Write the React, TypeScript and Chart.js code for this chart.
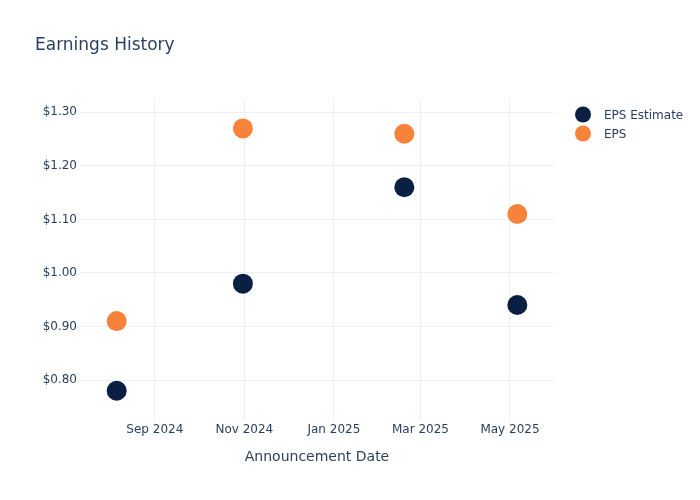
import React, { useEffect, useRef } from "react";
import { Chart, registerables } from "chart.js";

Chart.register(...registerables);

const announcementDates: string[] = ["2024-08-06", "2024-10-31", "2025-02-18", "2025-05-06"];
const epsEstimate: number[] = [0.78, 0.98, 1.16, 0.94];
const epsActual: number[] = [0.91, 1.27, 1.26, 1.11];
const xTickDates: string[] = ["2024-09-01", "2024-11-01", "2025-01-01", "2025-03-01", "2025-05-01"];
const xTickLabels: string[] = ["Sep 2024", "Nov 2024", "Jan 2025", "Mar 2025", "May 2025"];
const yTicks: number[] = [0.8, 0.9, 1.0, 1.1, 1.2, 1.3];
const xRange: string[] = ["2024-07-12", "2025-05-31"];
const yRange: number[] = [0.7253, 1.323];

const TEXT = "#2a3f5f";
const GRID = "#ebf0f8";
const FONT = "'DejaVu Sans', Verdana, Arial, sans-serif";
const NAVY = "#0b1f42";
const ORANGE = "#f7823a";

const ts = (s: string) => Date.parse(s + "T00:00:00Z");

const overlayPlugin = {
  id: "overlay",
  afterDraw(chart: any) {
    const ctx = chart.ctx;
    const area = chart.chartArea;
    ctx.save();
    ctx.fillStyle = TEXT;
    ctx.textBaseline = "middle";
    ctx.textAlign = "left";
    ctx.font = `17px ${FONT}`;
    ctx.fillText("Earnings History", 35, 45.5);

    ctx.font = `14px ${FONT}`;
    ctx.textAlign = "center";
    ctx.fillText("Announcement Date", (area.left + area.right) / 2, 457.5);

    ctx.font = `12px ${FONT}`;
    ctx.textAlign = "left";
    chart.data.datasets.forEach((ds: any, i: number) => {
      const y = 114.5 + i * 19;
      ctx.beginPath();
      ctx.arc(583, y, 8, 0, Math.PI * 2);
      ctx.fillStyle = ds.backgroundColor;
      ctx.fill();
      ctx.fillStyle = TEXT;
      ctx.fillText(ds.label, 604, y + 1);
    });
    ctx.restore();
  },
};

export default function App() {
  const ref = useRef<HTMLCanvasElement | null>(null);
  useEffect(() => {
    if (!ref.current) return;
    const chart = new Chart(ref.current, {
      type: "scatter",
      data: {
        datasets: [
          {
            label: "EPS Estimate",
            data: announcementDates.map((d, i) => ({ x: ts(d), y: epsEstimate[i] })),
            backgroundColor: NAVY,
            borderColor: NAVY,
            pointRadius: 10,
            pointHoverRadius: 10,
            borderWidth: 0,
          },
          {
            label: "EPS",
            data: announcementDates.map((d, i) => ({ x: ts(d), y: epsActual[i] })),
            backgroundColor: ORANGE,
            borderColor: ORANGE,
            pointRadius: 10,
            pointHoverRadius: 10,
            borderWidth: 0,
          },
        ],
      },
      options: {
        animation: false,
        responsive: false,
        maintainAspectRatio: false,
        layout: { padding: { left: 0, top: 100, right: 146, bottom: 0 } },
        plugins: {
          legend: { display: false },
          title: { display: false },
          tooltip: { enabled: false },
        },
        scales: {
          x: {
            type: "linear",
            min: ts(xRange[0]),
            max: ts(xRange[1]),
            border: { display: false },
            grid: { color: GRID, lineWidth: 1, drawTicks: false },
            afterBuildTicks: (scale: any) => {
              scale.ticks = xTickDates.map((d) => ({ value: ts(d) }));
            },
            afterFit: (scale: any) => {
              scale.height = 80;
            },
            ticks: {
              color: TEXT,
              font: { family: FONT, size: 12 },
              padding: 3,
              maxRotation: 0,
              autoSkip: false,
              callback: (v: any) => {
                const idx = xTickDates.findIndex((d) => ts(d) === v);
                return idx >= 0 ? xTickLabels[idx] : "";
              },
            },
          },
          y: {
            type: "linear",
            min: yRange[0],
            max: yRange[1],
            border: { display: false },
            grid: { color: GRID, lineWidth: 1, drawTicks: false },
            afterBuildTicks: (scale: any) => {
              scale.ticks = yTicks.map((v) => ({ value: v }));
            },
            afterFit: (scale: any) => {
              scale.width = 80;
            },
            ticks: {
              color: TEXT,
              font: { family: FONT, size: 12 },
              padding: 3,
              callback: (v: any) => "$" + Number(v).toFixed(2),
            },
          },
        },
      },
      plugins: [overlayPlugin],
    } as any);
    return () => chart.destroy();
  }, []);
  return (
    <div style={{ position: "fixed", left: 0, top: 0, width: 700, height: 500, background: "#fff" }}>
      <canvas ref={ref} width={700} height={500} style={{ width: 700, height: 500 }} />
    </div>
  );
}
